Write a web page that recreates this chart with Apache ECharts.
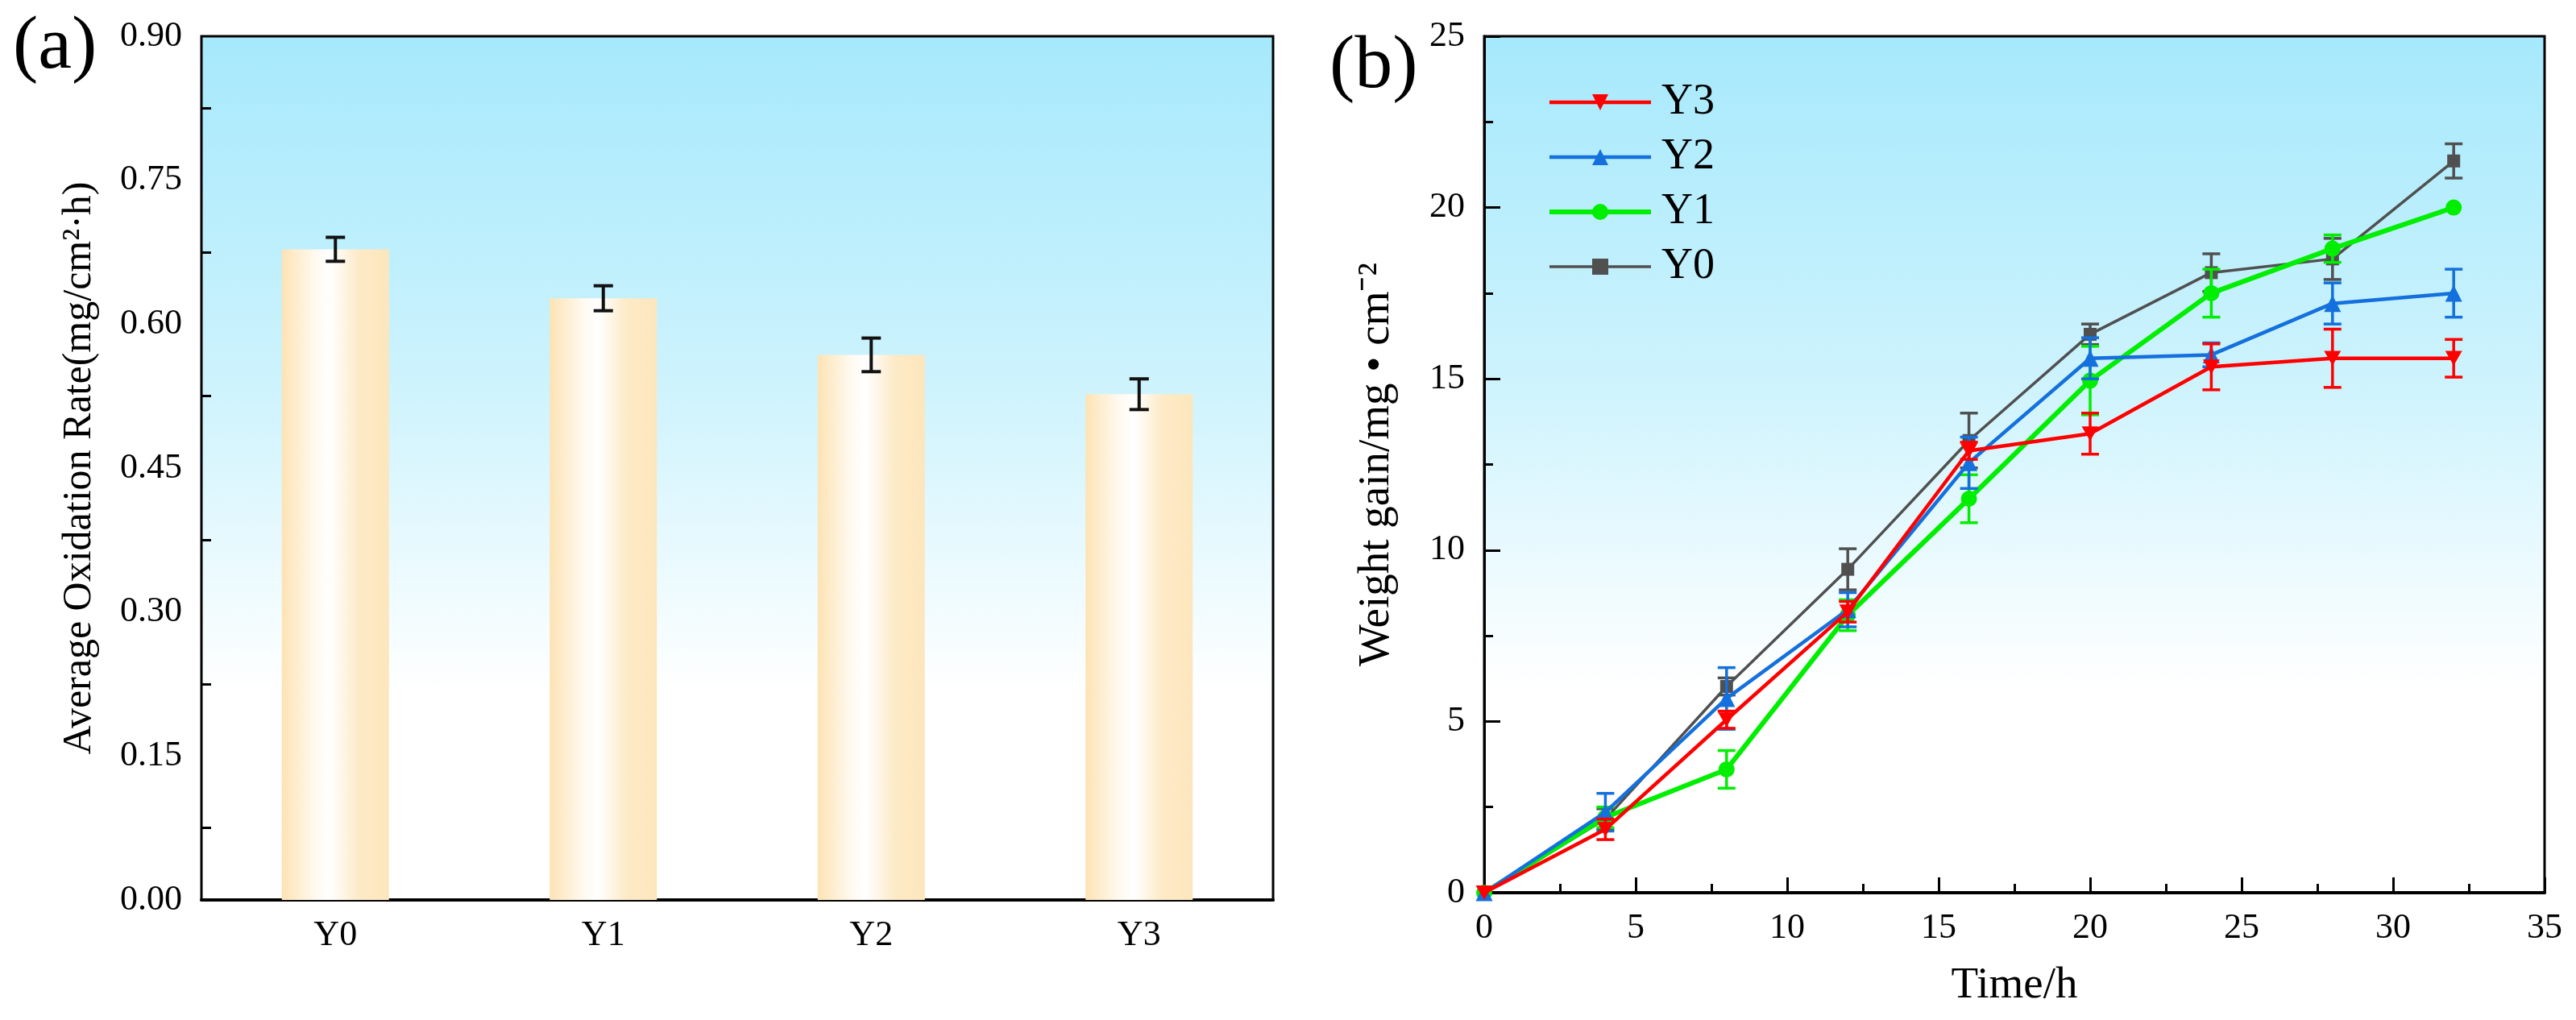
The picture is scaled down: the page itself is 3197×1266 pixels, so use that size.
<!DOCTYPE html>
<html>
<head>
<meta charset="utf-8">
<script src="https://cdn.jsdelivr.net/npm/echarts@6/dist/echarts.min.js"></script>
<style>
  html, body { margin: 0; padding: 0; background: #fff; }
  #chart { width: 3197px; height: 1266px; }
</style>
</head>
<body>
<div id="chart"></div>
<script>
// (a) average oxidation rate
var barCats = ['Y0', 'Y1', 'Y2', 'Y3'];
var barRates = [0.678, 0.627, 0.568, 0.527];
var barErrs = [0.0125, 0.013, 0.0175, 0.016];

// (b) weight gain vs time
var hours = [0, 4, 8, 12, 16, 20, 24, 28, 32];
var gainY3 = [0, 1.85, 5.05, 8.2, 12.9, 13.4, 15.35, 15.6, 15.6];
var errY3  = [0, 0.3, 0.25, 0.3, 0.25, 0.6, 0.67, 0.85, 0.55];
var gainY2 = [0, 2.35, 5.67, 8.26, 12.55, 15.6, 15.7, 17.2, 17.5];
var errY2  = [0, 0.55, 0.9, 0.5, 0.75, 0.6, 0.35, 0.6, 0.7];
var gainY1 = [0, 2.2, 3.6, 8.1, 11.5, 14.95, 17.5, 18.8, 20.0];
var errY1  = [0, 0.3, 0.55, 0.45, 0.7, 1.0, 0.7, 0.4, 0];
var gainY0 = [0, 2.15, 6.02, 9.44, 13.2, 16.3, 18.1, 18.5, 21.36];
var errY0  = [0, 0.3, 0.25, 0.6, 0.8, 0.3, 0.55, 0.6, 0.5];

var FONT = 'Liberation Serif';
var chart = echarts.init(document.getElementById('chart'));

// 背景渐变
function skyFill() {
    return new echarts.graphic.LinearGradient(0, 0, 0, 1, [
        {offset: 0, color: '#a6e9fc'},
        {offset: 0.4, color: '#cdf3fd'},
        {offset: 0.76, color: '#ffffff'},
        {offset: 1, color: '#ffffff'}
    ]);
}

// 误差线
function errorBar(capHalf, lw, color) {
    return function (params, api) {
        var x = api.value(0), y = api.value(1), e = api.value(2);
        if (!(e > 0)) return null;
        var hi = api.coord([x, y + e]);
        var lo = api.coord([x, y - e]);
        var style = {stroke: color, lineWidth: lw};
        return {
            type: 'group',
            children: [
                {type: 'line', shape: {x1: hi[0], y1: hi[1], x2: lo[0], y2: lo[1]}, style: style},
                {type: 'line', shape: {x1: hi[0] - capHalf, y1: hi[1], x2: hi[0] + capHalf, y2: hi[1]}, style: style},
                {type: 'line', shape: {x1: lo[0] - capHalf, y1: lo[1], x2: lo[0] + capHalf, y2: lo[1]}, style: style}
            ]
        };
    };
}

function zip3(xs, ys, es) {
    return xs.map(function (x, i) { return [x, ys[i], es[i]]; });
}

var tickFont = {color: '#000', fontFamily: FONT, fontSize: 44};
var nameFont = {color: '#000', fontFamily: FONT, fontSize: 55};
var blackLine = {color: '#000', width: 3};

var lineDefs = [
    {name: 'Y0', data: gainY0, err: errY0, color: '#505050', symbol: 'rect', size: 16, width: 3.5},
    {name: 'Y1', data: gainY1, err: errY1, color: '#00ee00', symbol: 'circle', size: 20, width: 6},
    {name: 'Y2', data: gainY2, err: errY2, color: '#1470dc', symbol: 'triangle', size: 21, width: 4.5},
    {name: 'Y3', data: gainY3, err: errY3, color: '#ff0000', symbol: 'path://M0,0L10,0L5,8.66Z', size: 21, width: 4.5}
];

var series = [
    {
        type: 'bar',
        xAxisIndex: 0, yAxisIndex: 0,
        data: barRates,
        barWidth: 133,
        itemStyle: {
            color: new echarts.graphic.LinearGradient(0, 0, 1, 0, [
                {offset: 0, color: '#fde3b4'},
                {offset: 0.32, color: '#fffaf1'},
                {offset: 0.45, color: '#ffffff'},
                {offset: 0.72, color: '#fdeac6'},
                {offset: 1, color: '#fde6bd'}
            ])
        },
        z: 2
    },
    {
        type: 'custom',
        xAxisIndex: 0, yAxisIndex: 0,
        renderItem: errorBar(12, 4, '#111'),
        data: barRates.map(function (v, i) { return [i, v, barErrs[i]]; }),
        z: 3
    }
];

lineDefs.forEach(function (d, k) {
    series.push({
        type: 'line',
        name: d.name,
        xAxisIndex: 1, yAxisIndex: 1,
        data: hours.map(function (h, i) { return [h, d.data[i]]; }),
        symbol: d.symbol,
        symbolSize: d.size,
        symbolKeepAspect: true,
        showAllSymbol: true,
        color: d.color,
        lineStyle: {color: d.color, width: d.width},
        itemStyle: {color: d.color},
        z: 3 + k * 2
    });
    series.push({
        type: 'custom',
        xAxisIndex: 1, yAxisIndex: 1,
        renderItem: errorBar(11, 3.5, d.color),
        data: zip3(hours, d.data, d.err),
        z: 4 + k * 2
    });
});

var option = {
    animation: false,
    backgroundColor: '#fff',
    grid: [
        {left: 250, top: 45, width: 1330, height: 1072, show: true,
         backgroundColor: skyFill(), borderColor: '#000', borderWidth: 3},
        {left: 1842, top: 45, width: 1316, height: 1063, show: true,
         backgroundColor: skyFill(), borderColor: '#000', borderWidth: 3}
    ],
    legend: {
        data: ['Y3', 'Y2', 'Y1', 'Y0'],
        orient: 'vertical',
        left: 1915, top: 95,
        itemWidth: 126, itemHeight: 25, itemGap: 14,
        lineStyle: {width: 'inherit'},
        textStyle: {color: '#000', fontFamily: FONT, fontSize: 54, padding: [0, 0, 0, 8]}
    },
    xAxis: [
        {
            type: 'category', gridIndex: 0, data: barCats,
            axisLine: {lineStyle: {color: '#000', width: 4}},
            axisTick: {inside: true, alignWithLabel: true, length: 18, lineStyle: blackLine},
            axisLabel: Object.assign({margin: 22}, tickFont),
            splitLine: {show: false}
        },
        {
            type: 'value', gridIndex: 1, min: 0, max: 35, interval: 5,
            name: 'Time/h', nameLocation: 'middle', nameGap: 88, nameTextStyle: nameFont,
            axisLine: {lineStyle: {color: '#000', width: 4}},
            axisTick: {inside: true, length: 19, lineStyle: blackLine},
            minorTick: {show: true, splitNumber: 2, length: 11, lineStyle: blackLine},
            axisLabel: Object.assign({margin: 22}, tickFont),
            splitLine: {show: false}
        }
    ],
    yAxis: [
        {
            type: 'value', gridIndex: 0, min: 0, max: 0.9, interval: 0.15,
            name: 'Average Oxidation Rate(mg/cm²·h)', nameLocation: 'middle', nameGap: 126,
            nameTextStyle: Object.assign({}, nameFont, {fontSize: 50}),
            axisLine: {lineStyle: {color: '#000', width: 3}},
            axisTick: {inside: true, length: 20, lineStyle: blackLine},
            minorTick: {show: true, splitNumber: 2, length: 12, lineStyle: blackLine},
            axisLabel: Object.assign({margin: 24, formatter: function (v) { return v.toFixed(2); }}, tickFont),
            splitLine: {show: false}
        },
        {
            type: 'value', gridIndex: 1, min: 0, max: 25, interval: 5,
            name: 'Weight gain/mg • cm⁻²', nameLocation: 'middle', nameGap: 106,
            nameTextStyle: nameFont,
            axisLine: {lineStyle: {color: '#000', width: 3}},
            axisTick: {inside: true, length: 20, lineStyle: blackLine},
            minorTick: {show: true, splitNumber: 2, length: 11, lineStyle: blackLine},
            axisLabel: Object.assign({margin: 24}, tickFont),
            splitLine: {show: false}
        }
    ],
    graphic: [
        {type: 'text', left: 16, top: 12, style: {text: '(a)', fontFamily: FONT, fontSize: 94, fill: '#000'}},
        {type: 'text', left: 1650, top: 36, style: {text: '(b)', fontFamily: FONT, fontSize: 94, fill: '#000'}}
    ],
    series: series
};

chart.setOption(option);
</script>
</body>
</html>
